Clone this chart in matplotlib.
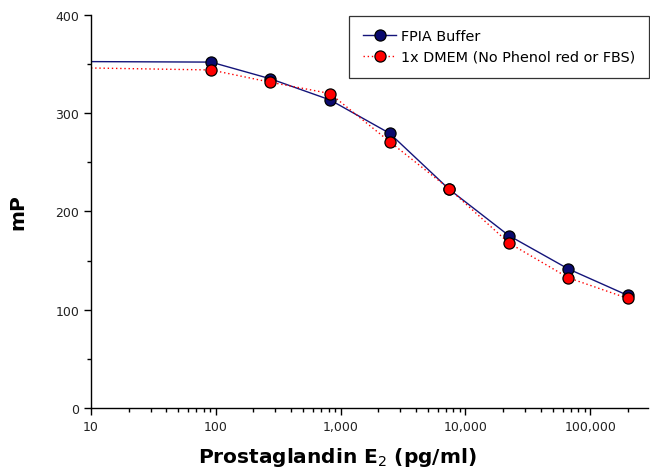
import matplotlib
matplotlib.use("Agg")
import matplotlib.pyplot as plt
from matplotlib.ticker import FixedLocator, FuncFormatter, LogLocator, NullFormatter

# PGE2 standard curve, 3-fold dilutions (pg/ml)
conc = [91.4, 274, 823, 2469, 7407, 22222, 66667, 200000]
fpia_mp = [352, 335, 313.5, 279.5, 222.5, 175.5, 141.5, 114.5]
dmem_mp = [344, 331.5, 320, 271, 223, 168, 132.5, 111.5]
# plateau of the curves at the left edge of the axis
x_start = 10
fpia_top = 352.5
dmem_top = 346

labels = ["FPIA Buffer", "1x DMEM (No Phenol red or FBS)"]
x_ticks = [10, 100, 1000, 10000, 100000]
y_ticks = [0, 100, 200, 300, 400]

plt.rcParams['font.family'] = ['DejaVu Sans']

fig = plt.figure(figsize=(6.5, 4.77), dpi=100)
ax = fig.add_axes([0.14, 0.1426, 0.857, 0.824])

navy = "#14147a"
ax.plot([x_start] + conc, [fpia_top] + fpia_mp, color=navy, lw=1.0, zorder=2)
ax.plot([x_start] + conc, [dmem_top] + dmem_mp, color="red", lw=1.0, ls=(0, (1, 2)), zorder=2)
ax.plot(conc, fpia_mp, ls="none", marker="o", ms=8, mfc="#0a0a6e", mec="black", mew=0.9, zorder=3)
ax.plot(conc, dmem_mp, ls="none", marker="o", ms=8, mfc="red", mec="black", mew=0.9, zorder=4)

# legend handles (line + marker)
h1, = ax.plot([], [], color=navy, lw=1.0, marker="o", ms=8, mfc="#0a0a6e", mec="black", mew=0.9)
h2, = ax.plot([], [], color="red", lw=1.0, ls=(0, (1, 2)), marker="o", ms=8, mfc="red", mec="black", mew=0.9)
leg = ax.legend([h1, h2], labels, loc="upper left", bbox_to_anchor=(0.464, 0.998),
                frameon=True, fancybox=False, edgecolor="black", fontsize=10.4,
                handlelength=2.3, handletextpad=0.35, borderpad=0.95, labelspacing=0.45,
                borderaxespad=0.0)
leg.get_frame().set_linewidth(0.9)

ax.set_xscale("log")
ax.set_xlim(10, 290000)
ax.set_ylim(0, 400)

ax.xaxis.set_major_locator(FixedLocator(x_ticks))
ax.xaxis.set_major_formatter(FuncFormatter(lambda v, p: f"{int(v):,}"))
ax.xaxis.set_minor_locator(LogLocator(base=10, subs=range(2, 10), numticks=20))
ax.xaxis.set_minor_formatter(NullFormatter())
ax.yaxis.set_major_locator(FixedLocator(y_ticks))
ax.yaxis.set_minor_locator(FixedLocator([50, 150, 250, 350]))

for s in ["top", "right"]:
    ax.spines[s].set_visible(False)
for s in ["left", "bottom"]:
    ax.spines[s].set_linewidth(1.0)

ax.tick_params(axis="both", which="major", direction="out", length=5, width=1.0,
               labelsize=9, colors="black", labelcolor="#222222")
ax.tick_params(axis="both", which="minor", direction="out", length=3, width=1.0)

ax.set_xlabel("Prostaglandin E$_2$ (pg/ml)", fontsize=14.5, fontweight="bold")
ax.xaxis.set_label_coords(0.442, -0.095)
ax.set_ylabel("mP", fontsize=14.5, fontweight="bold", labelpad=20)

fig.savefig("out.png", dpi=100)
